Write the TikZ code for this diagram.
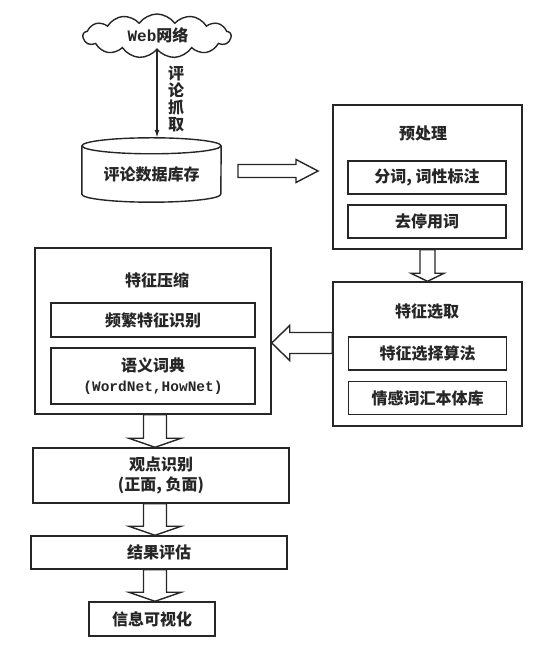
\documentclass[tikz,border=0pt]{standalone}
\usepackage{fontspec}
\setmainfont{Noto Sans CJK SC}
\newfontfamily\monof{Liberation Mono}
\usetikzlibrary{shapes.symbols,calc,arrows.meta}
\newcommand{\hollowarrow}[5]{%
  \coordinate (hA) at #1; \coordinate (hB) at #2;
  \coordinate (hC) at ($(hB)!#5!(hA)$);
  \draw[line, fill=white, line join=miter]
    ($(hA)!#3!90:(hB)$) -- ($(hC)!#3!-90:(hA)$) -- ($(hC)!#4!-90:(hA)$) -- (hB)
    -- ($(hC)!#4!90:(hA)$) -- ($(hC)!#3!90:(hA)$) -- ($(hA)!#3!-90:(hB)$) -- cycle;}
\tikzset{
  line/.style={draw=black!85, line width=1.4pt},
  txt/.style={font=\fontsize{16}{20}\selectfont\bfseries, text=black!85, align=center, inner sep=0pt},
  frame/.style={line, inner sep=0pt, minimum width=189pt, minimum height=144pt},
  subbox/.style={line, txt, minimum width=158pt, minimum height=33pt},
  flowbox/.style={line, txt, minimum width=256pt},
}
\begin{document}
\begin{tikzpicture}[x=1pt,y=1pt]
\useasboundingbox (0,0) rectangle (553,645);
% cloud
\node[cloud, cloud puffs=13, cloud puff arc=110, aspect=3.2, line, fill=white,
      minimum width=148pt, minimum height=44pt, inner sep=0pt] (cloud) at (157,609) {};
\node[txt] (cloudT) at (158,610) {{\monof\bfseries Web}网络};
% database
\node[txt, minimum width=139pt, minimum height=56pt] (db) at (151.5,471) {\raisebox{-5pt}{评论数据库存}};
\coordinate (dbtop) at ([yshift=8pt]db.north);
\draw[line] (db.north west) -- ([yshift=8pt]db.south west)
   arc[start angle=180, end angle=360, x radius=69.5pt, y radius=8pt] -- (db.north east);
\draw[line] (db.north) ellipse[x radius=69.5pt, y radius=8pt];
\draw[line, -{Latex[length=8pt,width=5pt]}] (cloud.south) -- (cloud.south |- dbtop);
\node[txt, font=\fontsize{16}{17}\selectfont\bfseries] (grab) at (176,546) {评\\论\\抓\\取};
% preprocessing
\node[frame] (pre) at (427.5,468) {};
\node[txt] (preT) at (423,512) {预处理};
\node[subbox] (pre1) at (427,467.5) {分词, 词性标注};
\node[subbox] (pre2) at (427,423.5) {去停用词};
% feature selection
\node[frame] (sel) at (427.5,291) {};
\node[txt] (selT) at (427,333) {特征选取};
\node[subbox] (sel1) at (427.5,291.5) {特征选择算法};
\node[subbox] (sel2) at (427.5,247) {情感词汇本体库};
% feature compression
\node[frame, minimum width=236pt, minimum height=166pt] (comp) at (153,314) {};
\node[txt] (compT) at (157,365) {特征压缩};
\node[subbox, minimum width=204pt, minimum height=34pt] (comp1) at (153,325) {频繁特征识别};
\node[subbox, minimum width=204pt, minimum height=56pt] (comp2) at (153,269)
  {语义词典\\{\monof\bfseries\fontsize{14.5}{20}\selectfont (WordNet,HowNet)}};
% flow
\node[flowbox, minimum height=55pt] (op) at (161,169.5) {观点识别\\(正面, 负面)};
\node[flowbox, minimum height=33pt] (res) at (159,92.5) {结果评估};
\node[flowbox, minimum width=126pt, minimum height=34pt] (vis) at (152,26) {信息可视化};
% hollow arrows
\coordinate (ra1) at (238,474);
\coordinate (ra2) at (318,474);
\hollowarrow{(ra1)}{(ra2)}{6.5pt}{11.5pt}{22pt}
\coordinate (la1) at ($(sel.west)+(0,11pt)$);
\hollowarrow{(la1)}{(comp.east |- la1)}{10.5pt}{17.5pt}{18pt}
\hollowarrow{(pre.south)}{(sel.north)}{7.5pt}{16.5pt}{8pt}
\coordinate (dx) at (155,0);
\hollowarrow{(dx |- comp.south)}{(dx |- op.north)}{11.5pt}{26pt}{9pt}
\hollowarrow{(dx |- op.south)}{(dx |- res.north)}{11.5pt}{26pt}{9pt}
\hollowarrow{(dx |- res.south)}{(dx |- vis.north)}{11.5pt}{26pt}{9pt}
\end{tikzpicture}
\end{document}
